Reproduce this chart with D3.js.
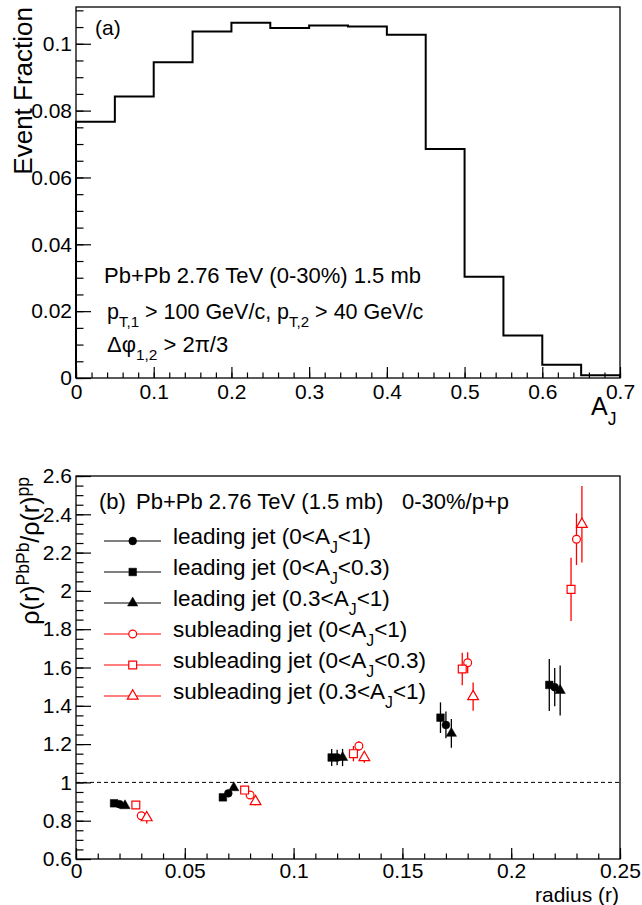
<!DOCTYPE html>
<html>
<head>
<meta charset="utf-8">
<script src="https://cdn.jsdelivr.net/npm/d3@7"></script>
<style>
body { margin: 0; background: #fff; }
svg { display: block; font-family: "Liberation Sans", Arial, Helvetica, sans-serif; }
</style>
</head>
<body>
<div id="chart"></div>
<script>
// ---- panel (a): event fraction vs A_J ----
const ajEdges = [0, 0.05, 0.1, 0.15, 0.2, 0.25, 0.3, 0.35, 0.4, 0.45, 0.5, 0.55, 0.6, 0.65, 0.7];
const eventFraction = [0.0767, 0.0842, 0.0945, 0.1037, 0.1063, 0.1047, 0.1055, 0.1052, 0.1027, 0.0685, 0.0303, 0.0127, 0.0040, 0.0008];
const ajTicks = [0, 0.1, 0.2, 0.3, 0.4, 0.5, 0.6, 0.7];
const ajTickLabels = ["0", "0.1", "0.2", "0.3", "0.4", "0.5", "0.6", "0.7"];
const fracTicks = [0, 0.02, 0.04, 0.06, 0.08, 0.1];
const fracTickLabels = ["0", "0.02", "0.04", "0.06", "0.08", "0.1"];

// ---- panel (b): rho(r) PbPb / pp ----
const radiusTicks = [0, 0.05, 0.1, 0.15, 0.2, 0.25];
const radiusTickLabels = ["0", "0.05", "0.1", "0.15", "0.2", "0.25"];
const ratioTicks = [0.6, 0.8, 1, 1.2, 1.4, 1.6, 1.8, 2, 2.2, 2.4, 2.6];
const ratioTickLabels = ["0.6", "0.8", "1", "1.2", "1.4", "1.6", "1.8", "2", "2.2", "2.4", "2.6"];

const leadAllR = [0.020, 0.070, 0.120, 0.170, 0.220];
const leadAllY = [0.886, 0.943, 1.130, 1.300, 1.497];
const leadAllErr = [0.008, 0.010, 0.040, 0.070, 0.100];

const leadLowR = [0.0175, 0.0675, 0.1175, 0.1675, 0.2175];
const leadLowY = [0.891, 0.922, 1.130, 1.338, 1.509];
const leadLowErr = [0.008, 0.010, 0.045, 0.080, 0.136];

const leadHighR = [0.0225, 0.0725, 0.1225, 0.1725, 0.2225];
const leadHighY = [0.878, 0.972, 1.130, 1.256, 1.480];
const leadHighErr = [0.008, 0.012, 0.045, 0.075, 0.130];

const subAllR = [0.030, 0.080, 0.130, 0.180, 0.230];
const subAllY = [0.826, 0.934, 1.190, 1.625, 2.270];
const subAllErr = [0.015, 0.020, 0.025, 0.055, 0.135];

const subLowR = [0.0275, 0.0775, 0.1275, 0.1775, 0.2275];
const subLowY = [0.882, 0.960, 1.150, 1.592, 2.008];
const subLowErr = [0.020, 0.015, 0.040, 0.085, 0.165];

const subHighR = [0.0325, 0.0825, 0.1325, 0.1825, 0.2325];
const subHighY = [0.816, 0.900, 1.130, 1.448, 2.348];
const subHighErr = [0.030, 0.020, 0.028, 0.074, 0.200];

const W = 642, H = 905;
const FONT = 21;

const svg = d3.select('#chart').append('svg')
    .attr('width', W).attr('height', H)
    .attr('viewBox', `0 0 ${W} ${H}`);

// small TLatex-like helper: handles _{..} and ^{..}
function latex(sel, str, size) {
    const parts = str.split(/([_^]\{[^}]*\})/).filter(s => s.length);
    let shift = 0;
    parts.forEach(p => {
        let txt = p, fs = size, target = 0;
        if (p[0] === '_' || p[0] === '^') {
            txt = p.slice(2, -1);
            fs = size * 0.7;
            target = p[0] === '_' ? size * 0.38 : -size * 0.42;
        }
        sel.append('tspan').attr('dy', target - shift).attr('font-size', fs).text(txt);
        shift = target;
    });
    return sel;
}

function text(g, x, y, str, size, anchor) {
    const t = g.append('text')
        .attr('x', x).attr('y', y)
        .attr('font-size', size)
        .attr('text-anchor', anchor || 'start')
        .attr('fill', '#000');
    return latex(t, str, size);
}

// ticks pointing inward, drawn with d3 axes
function drawAxes(g, x, y, o) {
    const left = x.range()[0], bottom = y.range()[0];
    const xMin = g.append('g').attr('transform', `translate(0,${bottom})`)
        .call(d3.axisBottom(x).tickValues(o.xMinor).tickSize(-5.5).tickFormat(''));
    const xMaj = g.append('g').attr('transform', `translate(0,${bottom})`)
        .call(d3.axisBottom(x).tickValues(o.xTicks).tickSize(-11).tickPadding(o.xPad)
            .tickFormat((d, i) => o.xLabels[i]));
    const yMin = g.append('g').attr('transform', `translate(${left},0)`)
        .call(d3.axisLeft(y).tickValues(o.yMinor).tickSize(-7.5).tickFormat(''));
    const yMaj = g.append('g').attr('transform', `translate(${left},0)`)
        .call(d3.axisLeft(y).tickValues(o.yTicks).tickSize(-15).tickPadding(4)
            .tickFormat((d, i) => o.yLabels[i]));
    [xMin, xMaj, yMin, yMaj].forEach(a => {
        a.select('.domain').remove();
        a.selectAll('line').attr('stroke', '#000').attr('stroke-width', 1.2);
        a.selectAll('text').attr('font-size', FONT).attr('font-family', null).attr('fill', '#000');
    });
    g.append('rect')
        .attr('x', left).attr('y', y.range()[1])
        .attr('width', x.range()[1] - left).attr('height', bottom - y.range()[1])
        .attr('fill', 'none').attr('stroke', '#000').attr('stroke-width', 1.3);
}

// minor tick positions between two limits
function minorTicks(lo, hi, step) {
    const out = [];
    const n = Math.round((hi - lo) / step);
    for (let i = 0; i <= n; i++) out.push(+(lo + i * step).toFixed(6));
    return out;
}

// ================= panel (a) =================
const ga = svg.append('g');
const xa = d3.scaleLinear().domain([0, 0.7]).range([76, 620]);
const ya = d3.scaleLinear().domain([0, 0.111]).range([378, 7]);

const histPts = [[ajEdges[0], 0]]
    .concat(eventFraction.map((v, i) => [ajEdges[i], v]))
    .concat([[ajEdges[ajEdges.length - 1], eventFraction[eventFraction.length - 1]],
             [ajEdges[ajEdges.length - 1], 0]]);

ga.append('path')
    .attr('d', d3.line().x(d => xa(d[0])).y(d => ya(d[1])).curve(d3.curveStepAfter)(histPts))
    .attr('fill', 'none').attr('stroke', '#000').attr('stroke-width', 2);

drawAxes(ga, xa, ya, {
    xTicks: ajTicks, xLabels: ajTickLabels, xMinor: minorTicks(0, 0.7, 0.02), xPad: 6,
    yTicks: fracTicks, yLabels: fracTickLabels, yMinor: minorTicks(0, 0.11, 0.005)
});

text(ga, 95, 35, '(a)', 21);
text(ga, 104, 283, 'Pb+Pb 2.76 TeV (0-30%) 1.5 mb', 22);
text(ga, 107, 319, 'p_{T,1} > 100 GeV/c, p_{T,2} > 40 GeV/c', 21.5);
text(ga, 107, 352, '\u0394\u03c6_{1,2} > 2\u03c0/3', 22);
text(ga, 591, 415, 'A_{J}', 25);

ga.append('text')
    .attr('transform', 'translate(32,7) rotate(-90)')
    .attr('text-anchor', 'end').attr('font-size', 26)
    .text('Event Fraction');

// ================= panel (b) =================
const gb = svg.append('g');
const xb = d3.scaleLinear().domain([0, 0.25]).range([76, 620]);
const yb = d3.scaleLinear().domain([0.6, 2.6]).range([859, 476]);

gb.append('line')
    .attr('x1', xb(0)).attr('x2', xb(0.25))
    .attr('y1', yb(1)).attr('y2', yb(1))
    .attr('stroke', '#000').attr('stroke-width', 1)
    .attr('stroke-dasharray', '4,3');

const series = [
    { label: 'leading jet (0<A_{J}<1)', r: leadAllR, y: leadAllY, err: leadAllErr, shape: d3.symbolCircle, size: 48, color: '#000', open: false },
    { label: 'leading jet (0<A_{J}<0.3)', r: leadLowR, y: leadLowY, err: leadLowErr, shape: d3.symbolSquare, size: 58, color: '#000', open: false },
    { label: 'leading jet (0.3<A_{J}<1)', r: leadHighR, y: leadHighY, err: leadHighErr, shape: d3.symbolTriangle, size: 46, color: '#000', open: false },
    { label: 'subleading jet (0<A_{J}<1)', r: subAllR, y: subAllY, err: subAllErr, shape: d3.symbolCircle, size: 48, color: '#ff0000', open: true },
    { label: 'subleading jet (0<A_{J}<0.3)', r: subLowR, y: subLowY, err: subLowErr, shape: d3.symbolSquare, size: 62, color: '#ff0000', open: true },
    { label: 'subleading jet (0.3<A_{J}<1)', r: subHighR, y: subHighY, err: subHighErr, shape: d3.symbolTriangle, size: 50, color: '#ff0000', open: true }
];

function marker(g, s, x, y) {
    g.append('path')
        .attr('d', d3.symbol().type(s.shape).size(s.size)())
        .attr('transform', `translate(${x},${y})`)
        .attr('fill', s.open ? '#fff' : s.color)
        .attr('stroke', s.color)
        .attr('stroke-width', s.open ? 1.2 : 0.5);
}

series.forEach(s => {
    const g = gb.append('g');
    s.r.forEach((r, i) => {
        g.append('line')
            .attr('x1', xb(r)).attr('x2', xb(r))
            .attr('y1', yb(s.y[i] - s.err[i])).attr('y2', yb(s.y[i] + s.err[i]))
            .attr('stroke', s.color).attr('stroke-width', 1.3);
        marker(g, s, xb(r), yb(s.y[i]));
    });
});

drawAxes(gb, xb, yb, {
    xTicks: radiusTicks, xLabels: radiusTickLabels, xMinor: minorTicks(0, 0.25, 0.01), xPad: 4,
    yTicks: ratioTicks, yLabels: ratioTickLabels, yMinor: minorTicks(0.6, 2.6, 0.05)
});

// legend
text(gb, 99, 509, '(b)', 22);
text(gb, 136, 509, 'Pb+Pb 2.76 TeV (1.5 mb)', 22);
text(gb, 402, 509, '0-30%/p+p', 22);

series.forEach((s, i) => {
    const ly = 541 + i * 31;
    gb.append('line')
        .attr('x1', 104).attr('x2', 161).attr('y1', ly).attr('y2', ly)
        .attr('stroke', s.open ? '#ff5555' : '#555').attr('stroke-width', 1.5);
    marker(gb, s, 132.7, ly);
    text(gb, 173, ly + 3, s.label, 22.5);
});

text(gb, 619, 902, 'radius (r)', 21, 'end');

const yt = gb.append('text')
    .attr('transform', 'translate(39,477) rotate(-90)')
    .attr('text-anchor', 'end');
latex(yt, '\u03c1(r)^{PbPb}/\u03c1(r)^{pp}', 25);
</script>
</body>
</html>
